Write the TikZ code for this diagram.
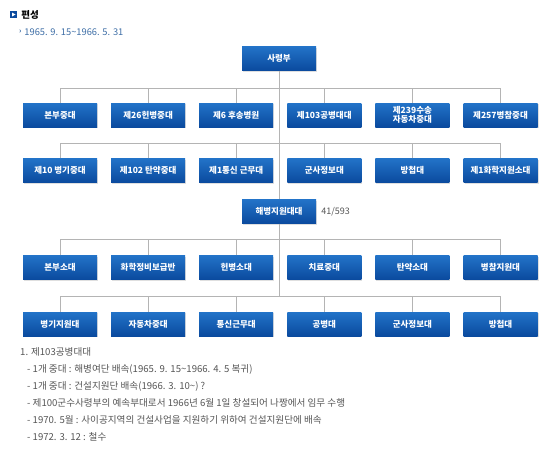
\documentclass[tikz,border=0pt]{standalone}
\usepackage{fontspec}
\setmainfont{Noto Sans CJK KR}
\usepackage{tikz}
\usetikzlibrary{positioning,shadows}
\usepackage{xcolor}
\definecolor{boxtop}{HTML}{2273C8}
\definecolor{boxbot}{HTML}{0A4A9E}
\definecolor{linegray}{HTML}{B4B4B4}
\definecolor{notegray}{HTML}{555555}
\definecolor{dateblue}{HTML}{3E6EA6}

\begin{document}
\begin{tikzpicture}[
    x=1pt, y=-1pt,
    unit/.style={rectangle, minimum width=74pt, minimum height=24pt, inner sep=0pt, align=center,
      top color=boxtop, bottom color=boxbot, text=white, font=\fontsize{8.5}{9}\selectfont\bfseries,
      drop shadow={shadow xshift=1pt, shadow yshift=-1pt, opacity=0.25}},
    link/.style={draw=linegray, line width=0.7pt},
    note/.style={anchor=west, inner sep=0pt, text=notegray, font=\fontsize{9.6}{10}\selectfont}
  ]
    \useasboundingbox (0,0) rectangle (556,451);

    % heading
    \node[fill=boxbot, minimum size=7pt, inner sep=0pt] (icon) at (13.5,14.5) {};
    \fill[white] (12,12.5) -- (15.5,14.5) -- (12,16.5) -- cycle;
    \node[anchor=west, inner sep=0pt, font=\fontsize{9.5}{9.5}\selectfont\bfseries, right=4pt of icon] (title) {편성};
    \node[anchor=west, inner sep=0pt, text=dateblue, font=\fontsize{7}{7}\selectfont\bfseries] (mark) at (19,32) {›};
    \node[anchor=west, inner sep=0pt, text=dateblue, font=\fontsize{9.3}{9.3}\selectfont, right=2.5pt of mark] (period) {1965. 9. 15\textasciitilde 1966. 5. 31};

    % command
    \node[unit] (hq) at (279,58.5) {사령부};
    \coordinate (busa) at (279,88);
    \coordinate (busb) at (279,143);

    % first echelon
    \node[unit] (a1) at (60,115) {본부중대};
    \node[unit, right=13.7pt of a1] (a2) {제26헌병중대};
    \node[unit, right=13.7pt of a2] (a3) {제6 후송병원};
    \node[unit, right=13.7pt of a3] (a4) {제103공병대대};
    \node[unit, right=13.7pt of a4, font=\fontsize{8.5}{8.5}\selectfont\bfseries] (a5) {제239수송\\자동차중대};
    \node[unit, right=13.7pt of a5] (a6) {제257병참중대};

    \node[unit] (b1) at (60,170.5) {제10 병기중대};
    \node[unit, right=13.7pt of b1] (b2) {제102 탄약중대};
    \node[unit, right=13.7pt of b2] (b3) {제1통신 근무대};
    \node[unit, right=13.7pt of b3] (b4) {군사정보대};
    \node[unit, right=13.7pt of b4] (b5) {방첩대};
    \node[unit, right=13.7pt of b5] (b6) {제1화학지원소대};

    % marine support group
    \node[unit] (msg) at (279,211.5) {해병지원대대};
    \node[anchor=west, inner sep=0pt, text=notegray, font=\fontsize{9}{9}\selectfont, right=5pt of msg] (strength) {41/593};
    \coordinate (busc) at (279,239);
    \coordinate (busd) at (279,296);

    \node[unit] (c1) at (60,267.5) {본부소대};
    \node[unit, right=13.7pt of c1] (c2) {화학정비보급반};
    \node[unit, right=13.7pt of c2] (c3) {헌병소대};
    \node[unit, right=13.7pt of c3] (c4) {치료중대};
    \node[unit, right=13.7pt of c4] (c5) {탄약소대};
    \node[unit, right=13.7pt of c5] (c6) {병참지원대};

    \node[unit] (d1) at (60,324) {병기지원대};
    \node[unit, right=13.7pt of d1] (d2) {자동차중대};
    \node[unit, right=13.7pt of d2] (d3) {통신근무대};
    \node[unit, right=13.7pt of d3] (d4) {공병대};
    \node[unit, right=13.7pt of d4] (d5) {군사정보대};
    \node[unit, right=13.7pt of d5] (d6) {방첩대};

    % connectors
    \draw[link] (hq.south) -- (msg.north);
    \draw[link] (msg.south) -- (busd);
    \draw[link] (a1.north) |- (busa);
    \draw[link] (a2.north) |- (busa);
    \draw[link] (a3.north) |- (busa);
    \draw[link] (a4.north) |- (busa);
    \draw[link] (a5.north) |- (busa);
    \draw[link] (a6.north) |- (busa);
    \draw[link] (b1.north) |- (busb);
    \draw[link] (b2.north) |- (busb);
    \draw[link] (b3.north) |- (busb);
    \draw[link] (b4.north) |- (busb);
    \draw[link] (b5.north) |- (busb);
    \draw[link] (b6.north) |- (busb);
    \draw[link] (c1.north) |- (busc);
    \draw[link] (c2.north) |- (busc);
    \draw[link] (c3.north) |- (busc);
    \draw[link] (c4.north) |- (busc);
    \draw[link] (c5.north) |- (busc);
    \draw[link] (c6.north) |- (busc);
    \draw[link] (d1.north) |- (busd);
    \draw[link] (d2.north) |- (busd);
    \draw[link] (d3.north) |- (busd);
    \draw[link] (d4.north) |- (busd);
    \draw[link] (d5.north) |- (busd);
    \draw[link] (d6.north) |- (busd);

    % notes
    \node[note] (n0) at (20,352) {1. 제103공병대대};
    \node[note] (n1) at (27,369) {- 1개 중대 : 해병여단 배속(1965. 9. 15\textasciitilde 1966. 4. 5 복귀)};
    \node[note] (n2) at (27,386) {- 1개 중대 : 건설지원단 배속(1966. 3. 10\textasciitilde ) ?};
    \node[note] (n3) at (27,403) {- 제100군수사령부의 예속부대로서 1966년 6월 1일 창설되어 나짱에서 임무 수행};
    \node[note] (n4) at (27,420) {- 1970. 5월 : 사이공지역의 건설사업을 지원하기 위하여 건설지원단에 배속};
    \node[note] (n5) at (27,437) {- 1972. 3. 12 : 철수};
  \end{tikzpicture}
\end{document}
